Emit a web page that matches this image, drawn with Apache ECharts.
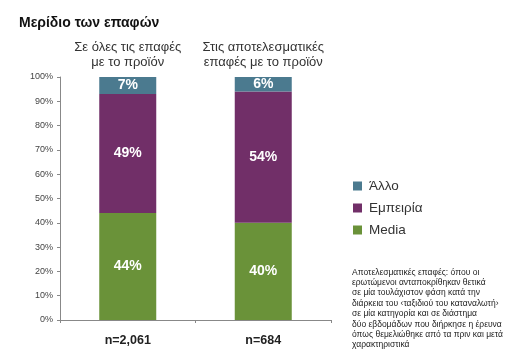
<!DOCTYPE html>
<html>
<head>
<meta charset="utf-8">
<script src="https://cdn.jsdelivr.net/npm/echarts@6/dist/echarts.min.js"></script>
<style>html,body{margin:0;padding:0;background:#fff}#c{width:512px;height:362px}</style>
</head>
<body>
<div id="c"></div>
<script>
const categories = ['n=2,061', 'n=684'];
const columnTitles = ['Σε όλες τις επαφές\nμε το προϊόν', 'Στις αποτελεσματικές\nεπαφές με το προϊόν'];
const media = [44, 40];
const empeiria = [49, 54];
const allo = [7, 6];
const footnote = 'Αποτελεσματικές επαφές: όπου οι\nερωτώμενοι ανταποκρίθηκαν θετικά\nσε μία τουλάχιστον φάση κατά την\nδιάρκεια του ‹ταξιδιού του καταναλωτή›\nσε μία κατηγορία και σε διάστημα\nδύο εβδομάδων που διήρκησε η έρευνα\nόπως θεμελιώθηκε από τα πριν και μετά\nχαρακτηριστικά';

const chart = echarts.init(document.getElementById('c'));
const font = 'Liberation Sans, Arial, sans-serif';
const lbl = {show: true, position: 'inside', color: '#fff', fontWeight: 'bold', fontSize: 14, fontFamily: font, formatter: p => p.value + '%'};
chart.setOption({
  animation: false,
  title: {text: 'Μερίδιο των επαφών', left: 14, top: 11, textStyle: {fontSize: 14, fontWeight: 'bold', color: '#111', fontFamily: font}},
  legend: {
    orient: 'vertical', left: 348, top: 174, itemGap: 8, itemWidth: 9, itemHeight: 9,
    icon: 'rect', data: ['Άλλο', 'Εμπειρία', 'Media'],
    textStyle: {fontSize: 13.5, color: '#333', fontFamily: font, padding: [0, 0, 0, 2]}
  },
  grid: {left: 60, right: 181, top: 77, bottom: 42},
  xAxis: [{
    type: 'category', data: categories,
    axisLine: {lineStyle: {color: '#888'}},
    axisTick: {show: true, length: 3, lineStyle: {color: '#888'}},
    axisLabel: {color: '#222', fontSize: 12.5, fontWeight: 'bold', margin: 14, fontFamily: font}
  }, {
    type: 'category', data: columnTitles, position: 'top',
    axisLine: {show: false}, axisTick: {show: false},
    axisLabel: {interval: 0, color: '#333', fontSize: 13, margin: 7, lineHeight: 15, fontFamily: font}
  }],
  yAxis: {
    type: 'value', min: 0, max: 100, interval: 10,
    axisLine: {show: true, lineStyle: {color: '#888'}},
    axisTick: {show: true, length: 3, lineStyle: {color: '#888'}},
    splitLine: {show: false},
    axisLabel: {formatter: '{value}%', color: '#444', fontSize: 9, margin: 7, fontFamily: font}
  },
  series: [
    {name: 'Media', type: 'bar', stack: 's', data: media, barWidth: 57, itemStyle: {color: '#6a9239'}, label: lbl},
    {name: 'Εμπειρία', type: 'bar', stack: 's', data: empeiria, itemStyle: {color: '#712f68'}, label: lbl},
    {name: 'Άλλο', type: 'bar', stack: 's', data: allo, itemStyle: {color: '#4b7a8f'}, label: lbl}
  ],
  graphic: [{
    type: 'text', left: 352, top: 267,
    style: {text: footnote, fontSize: 8.5, lineHeight: 10.4, fill: '#222', fontFamily: font}
  }]
});
</script>
</body>
</html>
